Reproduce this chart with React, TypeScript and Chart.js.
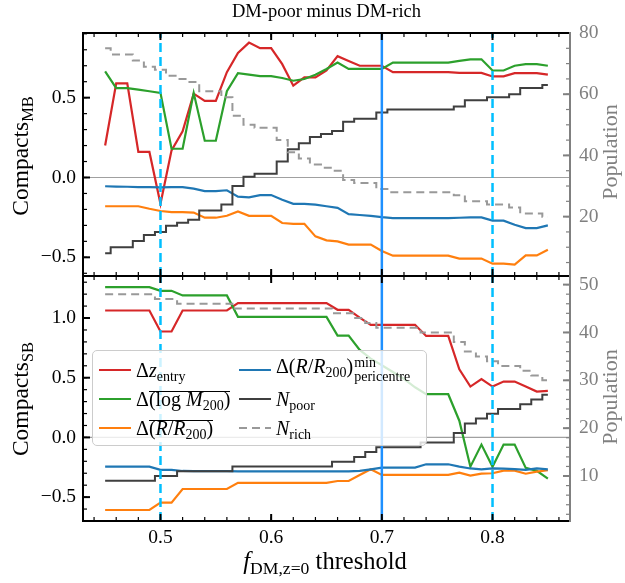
import React, { useEffect, useRef } from "react";
import { Chart, registerables } from "chart.js";

Chart.register(...registerables);

// ---------------- DATA ----------------
const thresholds = [0.45, 0.46, 0.47, 0.48, 0.49, 0.5, 0.51, 0.52, 0.53, 0.54, 0.55, 0.56, 0.57, 0.58, 0.59, 0.6, 0.61, 0.62, 0.63, 0.64, 0.65, 0.66, 0.67, 0.68, 0.69, 0.7, 0.71, 0.72, 0.73, 0.74, 0.75, 0.76, 0.77, 0.78, 0.79, 0.8, 0.81, 0.82, 0.83, 0.84, 0.85];

// Top panel: Compacts_MB
const mbDzEntry = [0.2, 0.59, 0.59, 0.16, 0.16, -0.165, 0.17, 0.29, 0.525, 0.48, 0.48, 0.66, 0.78, 0.845, 0.81, 0.81, 0.71, 0.575, 0.627, 0.627, 0.67, 0.76, 0.73, 0.7, 0.7, 0.7, 0.66, 0.66, 0.66, 0.66, 0.66, 0.66, 0.655, 0.655, 0.655, 0.633, 0.633, 0.654, 0.654, 0.654, 0.644];
const mbLogM200 = [0.665, 0.56, 0.56, 0.55, 0.54, 0.53, 0.18, 0.18, 0.53, 0.23, 0.23, 0.54, 0.654, 0.644, 0.635, 0.635, 0.623, 0.606, 0.617, 0.644, 0.68, 0.72, 0.68, 0.68, 0.68, 0.68, 0.72, 0.72, 0.72, 0.72, 0.72, 0.72, 0.73, 0.74, 0.74, 0.67, 0.67, 0.7, 0.71, 0.71, 0.7];
const mbRR200 = [-0.18, -0.18, -0.18, -0.18, -0.196, -0.21, -0.217, -0.217, -0.22, -0.252, -0.252, -0.24, -0.2125, -0.24, -0.24, -0.24, -0.285, -0.29, -0.29, -0.369, -0.394, -0.4, -0.42, -0.42, -0.42, -0.46, -0.49, -0.49, -0.49, -0.49, -0.49, -0.49, -0.508, -0.508, -0.508, -0.54, -0.54, -0.545, -0.488, -0.488, -0.452];
const mbPeri = [-0.055, -0.057, -0.058, -0.06, -0.06, -0.062, -0.06, -0.06, -0.07, -0.085, -0.085, -0.08, -0.12, -0.125, -0.11, -0.11, -0.14, -0.165, -0.165, -0.17, -0.18, -0.19, -0.23, -0.235, -0.24, -0.248, -0.254, -0.254, -0.254, -0.254, -0.254, -0.254, -0.252, -0.25, -0.25, -0.27, -0.27, -0.296, -0.317, -0.317, -0.3];
const mbNPoor = [8, 10, 10, 12, 14, 15, 17, 18, 19, 22, 22, 24, 30, 33, 34, 34, 38, 42, 44, 46, 47, 48, 51, 52, 52, 54, 55, 55, 55, 55, 55, 55, 56, 58, 58, 59, 59, 60, 62, 62, 63];
const mbNRich = [75, 73, 73, 71, 69, 68, 66, 65, 64, 61, 61, 59, 53, 50, 49, 49, 45, 41, 39, 37, 36, 35, 32, 31, 31, 29, 28, 28, 28, 28, 28, 28, 27, 25, 25, 24, 24, 23, 21, 21, 20];

// Bottom panel: Compacts_SB
const sbDzEntry = [1.063, 1.063, 1.063, 1.063, 1.063, 0.887, 0.887, 1.063, 1.063, 1.063, 1.063, 1.063, 1.125, 1.125, 1.125, 1.125, 1.125, 1.125, 1.125, 1.125, 1.125, 1.069, 1.069, 1.004, 0.943, 0.943, 0.943, 0.943, 0.943, 0.85, 0.85, 0.85, 0.57, 0.426, 0.488, 0.426, 0.468, 0.468, 0.426, 0.384, 0.39];
const sbLogM200 = [1.259, 1.259, 1.259, 1.259, 1.259, 1.228, 1.228, 1.189, 1.189, 1.189, 1.189, 1.189, 1.01, 1.01, 1.01, 1.01, 1.01, 1.01, 1.01, 1.01, 1.01, 0.853, 0.853, 0.733, 0.66, 0.605, 0.548, 0.49, 0.42, 0.362, 0.362, 0.362, 0.14, -0.245, -0.06, -0.245, -0.06, -0.06, -0.255, -0.28, -0.345];
const sbRR200 = [-0.608, -0.608, -0.608, -0.608, -0.608, -0.546, -0.546, -0.432, -0.432, -0.432, -0.432, -0.432, -0.38, -0.38, -0.38, -0.38, -0.38, -0.38, -0.38, -0.38, -0.38, -0.365, -0.365, -0.314, -0.267, -0.314, -0.314, -0.314, -0.314, -0.314, -0.314, -0.314, -0.295, -0.32, -0.304, -0.3, -0.278, -0.278, -0.304, -0.287, -0.275];
const sbPeri = [-0.245, -0.245, -0.245, -0.245, -0.245, -0.272, -0.272, -0.281, -0.283, -0.283, -0.283, -0.283, -0.285, -0.285, -0.285, -0.285, -0.285, -0.285, -0.285, -0.285, -0.285, -0.285, -0.285, -0.28, -0.267, -0.253, -0.253, -0.253, -0.253, -0.225, -0.225, -0.225, -0.245, -0.26, -0.267, -0.26, -0.262, -0.265, -0.272, -0.26, -0.267];
const sbNPoor = [9, 9, 9, 9, 9, 10, 10, 11, 11, 11, 11, 11, 12, 12, 12, 12, 12, 12, 12, 12, 12, 13, 13, 14, 15, 16, 16, 16, 16, 17, 17, 17, 19, 21, 22, 23, 24, 24, 25, 26, 27];
const sbNRich = [48, 48, 48, 48, 48, 47, 47, 46, 46, 46, 46, 46, 45, 45, 45, 45, 45, 45, 45, 45, 45, 44, 44, 43, 42, 41, 41, 41, 41, 40, 40, 40, 38, 36, 35, 34, 33, 33, 32, 31, 30];

// Threshold markers
const dashedMarkers = [0.5, 0.8];
const solidMarkers = [0.7];

// Tick labels
const xTickValues = [0.5, 0.6, 0.7, 0.8];
const mbLeftTicks = [-0.5, 0.0, 0.5];
const mbRightTicks = [20, 40, 60, 80];
const sbLeftTicks = [-0.5, 0.0, 0.5, 1.0];
const sbRightTicks = [10, 20, 30, 40, 50];

// ---------------- STYLE / LAYOUT ----------------
const W = 625;
const H = 583;
const FONT = "'Liberation Serif', 'Times New Roman', serif";
const X_MIN = 0.43;
const X_MAX = 0.87;
const RED = "#d62728";
const GREEN = "#2ca02c";
const ORANGE = "#ff7f0e";
const BLUE = "#1f77b4";
const NPOOR = "#3f3f3f";
const NRICH = "#999999";
const DASH_MARK = "#00bfff";
const SOLID_MARK = "#1e90ff";
const GRAYAX = "#808080";

const range = (a: number, b: number, step: number) => {
  const out: number[] = [];
  for (let v = a; v <= b + 1e-9; v += step) out.push(Math.round(v * 1000) / 1000);
  return out;
};

const fmt1 = (v: number) => (v < -1e-9 ? "\u2212" : "") + Math.abs(v).toFixed(1);

type PanelSpec = {
  dz: number[]; logm: number[]; rr: number[]; peri: number[]; npoor: number[]; nrich: number[];
  yMin: number; yMax: number; nMin: number; nMax: number;
  yTicks: number[]; nTicks: number[]; yMinor: number[]; nMinor: number[];
  padTop: number; padBottom: number; showX: boolean;
};

const xMinor = range(0.44, 0.86, 0.02);

const spinesAndTicks = (p: PanelSpec) => ({
  id: "spinesAndTicks",
  afterDraw(chart: any) {
    const { ctx, chartArea: a } = chart;
    const sx = chart.scales.x;
    const sy = chart.scales.y;
    const sn = chart.scales.n;
    ctx.save();
    ctx.lineCap = "butt";
    const line = (x1: number, y1: number, x2: number, y2: number, w: number, c: string) => {
      ctx.beginPath();
      ctx.lineWidth = w;
      ctx.strokeStyle = c;
      ctx.moveTo(x1, y1);
      ctx.lineTo(x2, y2);
      ctx.stroke();
    };
    const inR = (s: any, v: number) => v >= s.min - 1e-9 && v <= s.max + 1e-9;
    xMinor.forEach((v) => {
      if (!inR(sx, v)) return;
      const px = sx.getPixelForValue(v);
      line(px, a.top, px, a.top + 4, 1.2, "#000");
      line(px, a.bottom, px, a.bottom - 4, 1.2, "#000");
    });
    xTickValues.forEach((v) => {
      const px = sx.getPixelForValue(v);
      line(px, a.top, px, a.top + 7, 2, "#000");
      line(px, a.bottom, px, a.bottom - 7, 2, "#000");
    });
    p.yMinor.forEach((v) => {
      if (!inR(sy, v)) return;
      const py = sy.getPixelForValue(v);
      line(a.left, py, a.left + 4, py, 1.2, "#000");
    });
    p.yTicks.forEach((v) => {
      const py = sy.getPixelForValue(v);
      line(a.left, py, a.left + 7, py, 2, "#000");
    });
    p.nMinor.forEach((v) => {
      if (!inR(sn, v)) return;
      const py = sn.getPixelForValue(v);
      line(a.right, py, a.right - 4, py, 1.2, GRAYAX);
    });
    p.nTicks.forEach((v) => {
      const py = sn.getPixelForValue(v);
      line(a.right, py, a.right - 7, py, 2, GRAYAX);
    });
    ctx.lineCap = "square";
    line(a.left, a.top, a.right, a.top, 2, "#000");
    line(a.left, a.bottom, a.right, a.bottom, 2, "#000");
    line(a.left, a.top, a.left, a.bottom, 2, "#000");
    line(a.right, a.top, a.right, a.bottom, 2, GRAYAX);
    ctx.restore();
  },
});

const series = (values: number[]) => thresholds.map((t, i) => ({ x: t, y: values[i] }));

const lineDs = (label: string, values: number[], color: string, axis: string, extra: any = {}) => ({
  label,
  data: series(values),
  borderColor: color,
  backgroundColor: color,
  borderWidth: 2.2,
  pointRadius: 0,
  yAxisID: axis,
  fill: false,
  tension: 0,
  ...extra,
});

function buildConfig(p: PanelSpec): any {
  const markers = [
    ...solidMarkers.map((v) => ({
      label: "mark" + v,
      data: [{ x: v, y: p.yMin }, { x: v, y: p.yMax }],
      borderColor: SOLID_MARK,
      borderWidth: 2.5,
      pointRadius: 0,
      yAxisID: "y",
    })),
    ...dashedMarkers.map((v) => ({
      label: "mark" + v,
      data: [{ x: v, y: p.yMin }, { x: v, y: p.yMax }],
      borderColor: DASH_MARK,
      borderWidth: 2.5,
      borderDash: [9, 5],
      pointRadius: 0,
      yAxisID: "y",
    })),
  ];
  const datasets = [
    ...markers,
    lineDs("N_rich", p.nrich, NRICH, "n", { stepped: "middle", borderDash: [8, 5], borderWidth: 2 }),
    lineDs("N_poor", p.npoor, NPOOR, "n", { stepped: "middle", borderWidth: 2 }),
    lineDs("peri", p.peri, BLUE, "y"),
    lineDs("RR200", p.rr, ORANGE, "y"),
    lineDs("logM200", p.logm, GREEN, "y"),
    lineDs("z_entry", p.dz, RED, "y"),
    {
      label: "zero",
      data: [{ x: X_MIN, y: 0 }, { x: X_MAX, y: 0 }],
      borderColor: "#a0a0a0",
      borderWidth: 1.2,
      pointRadius: 0,
      yAxisID: "y",
    },
  ];
  const tickFont = { family: FONT, size: 19.5 };
  return {
    type: "line",
    data: { datasets },
    options: {
      responsive: false,
      animation: false,
      devicePixelRatio: 1,
      events: [],
      layout: { padding: { left: 33, right: 10, top: p.padTop, bottom: p.padBottom } },
      plugins: { legend: { display: false }, tooltip: { enabled: false }, title: { display: false } },
      scales: {
        x: {
          type: "linear",
          min: X_MIN,
          max: X_MAX,
          grid: { display: false, drawTicks: false },
          border: { display: false },
          ticks: {
            display: p.showX,
            font: tickFont,
            color: "#000",
            padding: 5,
            autoSkip: false,
            maxRotation: 0,
            callback: (v: number) => fmt1(v),
          },
          afterBuildTicks: (s: any) => {
            s.ticks = xTickValues.map((v) => ({ value: v }));
          },
          afterFit: (s: any) => {
            s.height = p.showX ? 40 : 0;
          },
        },
        y: {
          type: "linear",
          position: "left",
          min: p.yMin,
          max: p.yMax,
          grid: { display: false, drawTicks: false },
          border: { display: false },
          ticks: { font: tickFont, color: "#000", padding: 7, autoSkip: false, callback: (v: number) => fmt1(v) },
          afterBuildTicks: (s: any) => {
            s.ticks = p.yTicks.map((v) => ({ value: v }));
          },
          afterFit: (s: any) => {
            s.width = 50;
          },
        },
        n: {
          type: "linear",
          position: "right",
          min: p.nMin,
          max: p.nMax,
          grid: { display: false, drawTicks: false },
          border: { display: false },
          ticks: { font: tickFont, color: GRAYAX, padding: 9, autoSkip: false, callback: (v: number) => String(v) },
          afterBuildTicks: (s: any) => {
            s.ticks = p.nTicks.map((v) => ({ value: v }));
          },
          afterFit: (s: any) => {
            s.width = 45;
          },
        },
      },
    },
    plugins: [spinesAndTicks(p)],
  };
}

const TOP: PanelSpec = {
  dz: mbDzEntry, logm: mbLogM200, rr: mbRR200, peri: mbPeri, npoor: mbNPoor, nrich: mbNRich,
  yMin: -0.617, yMax: 0.905, nMin: 0.6, nMax: 80.0,
  yTicks: mbLeftTicks, nTicks: mbRightTicks,
  yMinor: range(-0.6, 0.9, 0.1), nMinor: range(5, 80, 5),
  padTop: 33, padBottom: 307, showX: false,
};

const BOTTOM: PanelSpec = {
  dz: sbDzEntry, logm: sbLogM200, rr: sbRR200, peri: sbPeri, npoor: sbNPoor, nrich: sbNRich,
  yMin: -0.7, yMax: 1.352, nMin: 0.6, nMax: 51.8,
  yTicks: sbLeftTicks, nTicks: sbRightTicks,
  yMinor: range(-0.7, 1.3, 0.1), nMinor: range(2, 50, 2),
  padTop: 276, padBottom: 22, showX: true,
};

// ---------------- OVERLAY TEXT ----------------
const subS: React.CSSProperties = { fontSize: "0.7em", verticalAlign: "-0.28em", lineHeight: 0 };
const subX: React.CSSProperties = { fontSize: "0.72em", verticalAlign: "-0.28em", lineHeight: 0 };
const overS: React.CSSProperties = { display: "inline-block", borderTop: "1.3px solid #000", lineHeight: 0.74, paddingTop: 0 };

const RotLabel = ({ cx, cy, color, size, children }: any) => (
  <div
    style={{
      position: "absolute",
      left: cx,
      top: cy,
      transform: "translate(-50%, -50%) rotate(-90deg)",
      whiteSpace: "nowrap",
      fontSize: size || 22,
      lineHeight: 1,
      color: color || "#000",
    }}
  >
    {children}
  </div>
);

const LegendItem = ({ left, cy, handle, children }: any) => (
  <>
    <div style={{ position: "absolute", left, top: cy - 1, width: 32, height: 2.2, ...handle }} />
    <div
      style={{
        position: "absolute",
        left: left + 37,
        top: cy,
        transform: "translateY(-50%)",
        whiteSpace: "nowrap",
        lineHeight: 1,
        fontSize: 20,
      }}
    >
      {children}
    </div>
  </>
);

export default function App() {
  const topRef = useRef<HTMLCanvasElement>(null);
  const botRef = useRef<HTMLCanvasElement>(null);

  useEffect(() => {
    const c1 = new Chart(topRef.current as HTMLCanvasElement, buildConfig(TOP));
    const c2 = new Chart(botRef.current as HTMLCanvasElement, buildConfig(BOTTOM));
    return () => {
      c1.destroy();
      c2.destroy();
    };
  }, []);

  return (
    <div
      style={{
        position: "absolute",
        left: 0,
        top: 0,
        width: W,
        height: H,
        background: "#fff",
        overflow: "hidden",
        fontFamily: FONT,
        color: "#000",
      }}
    >
      <canvas ref={topRef} width={W} height={H} style={{ position: "absolute", left: 0, top: 0 }} />
      <canvas ref={botRef} width={W} height={H} style={{ position: "absolute", left: 0, top: 0 }} />

      <div
        style={{ position: "absolute", left: 83, width: 487, top: 0, textAlign: "center", fontSize: 18.5, lineHeight: "22px" }}
      >
        DM-poor minus DM-rich
      </div>

      <RotLabel cx={21} cy={156} size={23.5}>
        Compacts<sub style={subS}>MB</sub>
      </RotLabel>
      <RotLabel cx={21} cy={399} size={23.5}>
        Compacts<sub style={subS}>SB</sub>
      </RotLabel>
      <RotLabel cx={610} cy={152} color={GRAYAX} size={22}>
        Population
      </RotLabel>
      <RotLabel cx={610} cy={397} color={GRAYAX} size={22}>
        Population
      </RotLabel>

      <div
        style={{
          position: "absolute",
          left: 325,
          top: 561,
          transform: "translate(-50%, -50%)",
          whiteSpace: "nowrap",
          fontSize: 24.5,
          lineHeight: 1,
        }}
      >
        <i>f</i>
        <sub style={subX}>DM,z=0</sub> threshold
      </div>

      <div
        style={{
          position: "absolute",
          left: 92,
          top: 350,
          width: 335,
          height: 96,
          boxSizing: "border-box",
          border: "1px solid #cccccc",
          borderRadius: 5,
          background: "rgba(255,255,255,0.8)",
        }}
      >
        <LegendItem left={6} cy={19} handle={{ background: RED }}>
          Δ<i>z</i>
          <sub style={subS}>entry</sub>
        </LegendItem>
        <LegendItem left={6} cy={48} handle={{ background: GREEN }}>
          Δ
          <span style={overS}>
            (log <i>M</i>
            <sub style={subS}>200</sub>)
          </span>
        </LegendItem>
        <LegendItem left={6} cy={77} handle={{ background: ORANGE }}>
          Δ
          <span style={overS}>
            (<i>R</i>/<i>R</i>
            <sub style={subS}>200</sub>)
          </span>
        </LegendItem>
        <LegendItem left={146} cy={19} handle={{ background: BLUE }}>
          Δ(<i>R</i>/<i>R</i>
          <sub style={subS}>200</sub>)
          <span
            style={{
              display: "inline-flex",
              flexDirection: "column",
              fontSize: "0.7em",
              lineHeight: 1,
              verticalAlign: "0.45em",
              marginLeft: 1,
            }}
          >
            <span>min</span>
            <span>pericentre</span>
          </span>
        </LegendItem>
        <LegendItem left={146} cy={48} handle={{ background: NPOOR, height: 2 }}>
          <i>N</i>
          <sub style={subS}>poor</sub>
        </LegendItem>
        <LegendItem
          left={146}
          cy={77}
          handle={{ height: 2, background: `repeating-linear-gradient(90deg, ${NRICH} 0 8px, transparent 8px 13px)` }}
        >
          <i>N</i>
          <sub style={subS}>rich</sub>
        </LegendItem>
      </div>
    </div>
  );
}
